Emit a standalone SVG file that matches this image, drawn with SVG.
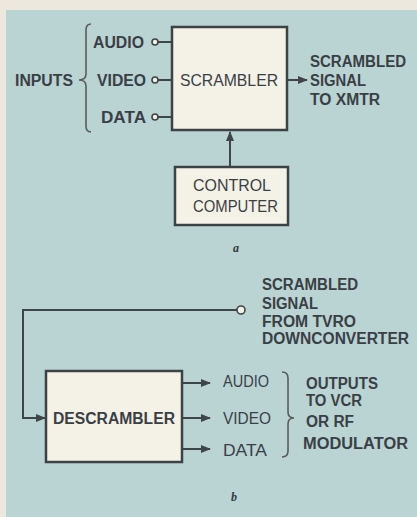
<svg xmlns="http://www.w3.org/2000/svg" width="417" height="517" viewBox="0 0 417 517">
<style>
.t{font-family:"Liberation Sans",Arial,sans-serif;font-weight:bold;font-size:16px;fill:#3a3f46}
.n{font-weight:normal}
.box{fill:#f4f1e6;stroke:#3c4245;stroke-width:2.5}
.ln{fill:none;stroke:#3f4548;stroke-width:2}
.br{fill:none;stroke:#5b5c58;stroke-width:1.6}
.term{fill:#f3f0e5;stroke:#3f4548;stroke-width:1.6}
.cap{font-family:"Liberation Serif",serif;font-style:italic;font-weight:bold;font-size:12px;fill:#33383e}
</style>
<defs>
<marker id="ah" viewBox="0 0 10 10" refX="9" refY="5" markerWidth="5" markerHeight="5" orient="auto" markerUnits="strokeWidth">
<path d="M0,1 L10,5 L0,9 Z" fill="#3f4548"/>
</marker>
</defs>
<rect width="417" height="517" fill="#ece8de"/>
<rect x="6" y="10" width="411" height="507" fill="#bad3d3"/>

<g id="connectors">
<line class="ln" x1="158" y1="42" x2="172" y2="42"/>
<line class="ln" x1="158" y1="80" x2="172" y2="80"/>
<line class="ln" x1="158" y1="117" x2="172" y2="117"/>
<line class="ln" x1="288" y1="80" x2="307" y2="80" marker-end="url(#ah)"/>
<line class="ln" x1="230" y1="166" x2="230" y2="132" marker-end="url(#ah)"/>
<polyline class="ln" points="237,310 23,310 23,418 45,418" marker-end="url(#ah)"/>
<line class="ln" x1="183" y1="383" x2="210" y2="383" marker-end="url(#ah)"/>
<line class="ln" x1="183" y1="418" x2="210" y2="418" marker-end="url(#ah)"/>
<line class="ln" x1="183" y1="449" x2="210" y2="449" marker-end="url(#ah)"/>
<circle class="term" cx="155" cy="42" r="3"/>
<circle class="term" cx="155" cy="80" r="3"/>
<circle class="term" cx="155" cy="117" r="3"/>
<circle class="term" cx="241" cy="310" r="4"/>
</g>

<g id="inputs">
<text class="t" x="15" y="86" textLength="58" lengthAdjust="spacingAndGlyphs">INPUTS</text>
<path class="br" d="M91 24 Q86 24 86 30 L86 74 Q86 80 79 80 Q86 80 86 86 L86 126 Q86 132 91 132"/>
<text class="t" x="93" y="48" textLength="51" lengthAdjust="spacingAndGlyphs">AUDIO</text>
<text class="t" x="97" y="86" textLength="49" lengthAdjust="spacingAndGlyphs">VIDEO</text>
<text class="t" x="101" y="123" textLength="45" lengthAdjust="spacingAndGlyphs">DATA</text>
</g>

<g id="scrambler">
<rect class="box" x="172" y="27" width="115" height="103"/>
<text class="t n" x="180" y="86" textLength="98" lengthAdjust="spacingAndGlyphs">SCRAMBLER</text>
</g>

<g id="scrambled-out">
<text class="t" x="310" y="67" textLength="96" lengthAdjust="spacingAndGlyphs">SCRAMBLED</text>
<text class="t" x="310" y="86" textLength="56" lengthAdjust="spacingAndGlyphs">SIGNAL</text>
<text class="t" x="310" y="105" textLength="70" lengthAdjust="spacingAndGlyphs">TO XMTR</text>
</g>

<g id="control-computer">
<rect class="box" x="175" y="167" width="113" height="58"/>
<text class="t n" x="193" y="191" textLength="78" lengthAdjust="spacingAndGlyphs">CONTROL</text>
<text class="t n" x="193" y="212" textLength="85" lengthAdjust="spacingAndGlyphs">COMPUTER</text>
</g>
<text class="cap" x="233" y="252">a</text>

<g id="scrambled-in">
<text class="t" x="262" y="290" textLength="96" lengthAdjust="spacingAndGlyphs">SCRAMBLED</text>
<text class="t" x="262" y="309" textLength="56" lengthAdjust="spacingAndGlyphs">SIGNAL</text>
<text class="t" x="262" y="327" textLength="94" lengthAdjust="spacingAndGlyphs">FROM TVRO</text>
<text class="t" x="262" y="344" textLength="147" lengthAdjust="spacingAndGlyphs">DOWNCONVERTER</text>
</g>

<g id="descrambler">
<rect class="box" x="46" y="371" width="136" height="91"/>
<text class="t" x="53" y="424" textLength="122" lengthAdjust="spacingAndGlyphs">DESCRAMBLER</text>
</g>

<g id="outputs">
<text class="t n" x="223" y="387" textLength="46" lengthAdjust="spacingAndGlyphs">AUDIO</text>
<text class="t n" x="223" y="424" textLength="48" lengthAdjust="spacingAndGlyphs">VIDEO</text>
<text class="t n" x="223" y="456" textLength="44" lengthAdjust="spacingAndGlyphs">DATA</text>
<path class="br" d="M282 372 Q288 372 288 378 L288 412 Q288 418 294 418 Q288 418 288 424 L288 451 Q288 457 282 457"/>
<text class="t" x="306" y="389" textLength="72" lengthAdjust="spacingAndGlyphs">OUTPUTS</text>
<text class="t" x="306" y="406" textLength="56" lengthAdjust="spacingAndGlyphs">TO VCR</text>
<text class="t" x="306" y="427" textLength="48" lengthAdjust="spacingAndGlyphs">OR RF</text>
<text class="t" x="303" y="449" textLength="105" lengthAdjust="spacingAndGlyphs">MODULATOR</text>
</g>
<text class="cap" x="231" y="501">b</text>
</svg>
